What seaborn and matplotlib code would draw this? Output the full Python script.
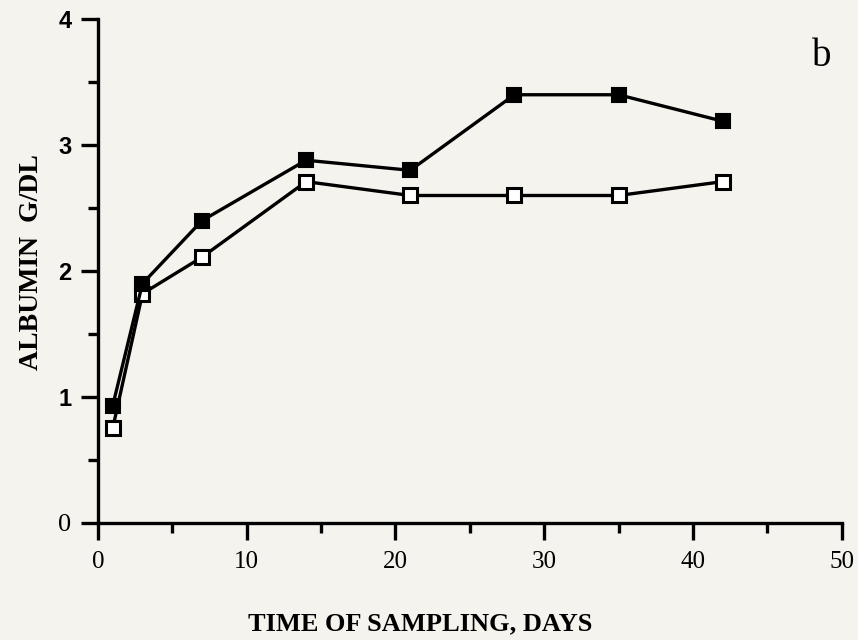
import matplotlib
matplotlib.use("Agg")
import matplotlib.pyplot as plt
import seaborn as sns
import pandas as pd
from matplotlib.ticker import MultipleLocator

days = [1, 3, 7, 14, 21, 28, 35, 42]
filled_vals = [0.93, 1.9, 2.4, 2.88, 2.8, 3.4, 3.4, 3.19]
open_vals = [0.75, 1.82, 2.11, 2.71, 2.6, 2.6, 2.6, 2.71]
x_ticks = [0, 10, 20, 30, 40, 50]
y_ticks = [0, 1, 2, 3, 4]

sns.set_style("ticks")
plt.rcParams['font.family'] = ['Liberation Serif', 'DejaVu Serif']
plt.rcParams['text.color'] = 'black'
plt.rcParams['axes.labelcolor'] = 'black'
plt.rcParams['xtick.color'] = 'black'
plt.rcParams['ytick.color'] = 'black'
plt.rcParams['axes.edgecolor'] = 'black'

bg = "#f5f3ee"
fig = plt.figure(figsize=(8.58, 6.4), dpi=100, facecolor=bg)
ax = fig.add_axes([0.114, 0.183, 0.867, 0.787])
ax.set_facecolor(bg)

df_open = pd.DataFrame({"day": days, "alb": open_vals})
df_fill = pd.DataFrame({"day": days, "alb": filled_vals})

sns.lineplot(data=df_open, x="day", y="alb", ax=ax, color="black", lw=2.4,
             marker="s", markersize=10, markerfacecolor="white",
             markeredgecolor="black", markeredgewidth=2.2, zorder=3)
sns.lineplot(data=df_fill, x="day", y="alb", ax=ax, color="black", lw=2.4,
             marker="s", markersize=10, markerfacecolor="black",
             markeredgecolor="black", markeredgewidth=1.5, zorder=4)

ax.set_xlim(0, 50)
ax.set_ylim(0, 4)
ax.set_xticks(x_ticks)
ax.set_yticks(y_ticks)
ax.xaxis.set_minor_locator(MultipleLocator(5))
ax.yaxis.set_minor_locator(MultipleLocator(0.5))
sns.despine(ax=ax)
for s in ["left", "bottom"]:
    ax.spines[s].set_linewidth(2.4)
    ax.spines[s].set_color("black")
ax.tick_params(which="both", direction="out", width=2.4, colors="black")
ax.tick_params(which="major", length=12)
ax.tick_params(which="minor", length=7)
ax.tick_params(axis="y", which="major", labelsize=17, pad=7)
ax.tick_params(axis="x", which="major", labelsize=18, pad=8)
ax.set_yticklabels([str(v) for v in y_ticks])
for lab in ax.get_yticklabels():
    if lab.get_text() == "0":
        lab.set_fontfamily(['Liberation Serif'])
        lab.set_fontsize(19)
    else:
        lab.set_fontfamily(['Liberation Sans', 'DejaVu Sans'])
        lab.set_fontweight("bold")

ax.set_xlabel("TIME OF SAMPLING, DAYS", fontsize=19, fontweight="bold", color="black")
ax.xaxis.set_label_coords(0.434, -0.178)
ax.set_ylabel("ALBUMIN  G/DL", fontsize=20, fontweight="bold", color="black")
ax.yaxis.set_label_coords(-0.073, 0.518)
ax.text(0.958, 0.911, "b", transform=fig.transFigure, fontsize=28,
        ha="center", va="center", color="black")

fig.savefig("out.png", dpi=100, facecolor=bg)
